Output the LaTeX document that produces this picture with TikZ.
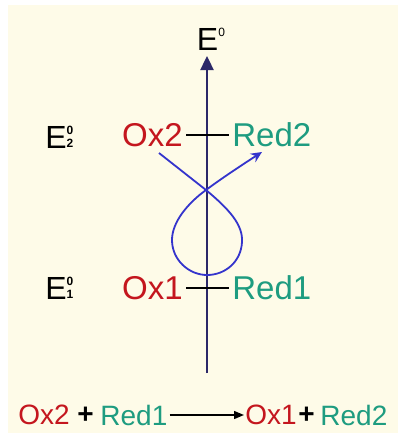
\documentclass[tikz,border=0pt]{standalone}
\usepackage{fontspec}
\setmainfont{Liberation Sans}
\usetikzlibrary{arrows.meta}

\definecolor{crema}{HTML}{FEFBE8}
\definecolor{rojoox}{HTML}{C4161E}
\definecolor{verdered}{HTML}{1E9C80}
\definecolor{ejeazul}{HTML}{2C2868}
\definecolor{curvaazul}{HTML}{3434CC}

% potencial estandar con super- y subindice apilados
\newcommand{\potest}[1]{E\makebox[0pt][l]{\raisebox{0.42em}{\fontsize{12}{12}\selectfont\bfseries 0}}\raisebox{0.02em}{\fontsize{12}{12}\selectfont\bfseries #1}}

\begin{document}
\begin{tikzpicture}[
    x=1pt, y=-1pt,
    ox/.style={text=rojoox, font=\fontsize{33}{33}\selectfont, inner sep=3pt},
    red/.style={text=verdered, font=\fontsize{33}{33}\selectfont, inner sep=3pt},
    pot/.style={font=\fontsize{32}{32}\selectfont, inner sep=0pt},
    ecu/.style={font=\fontsize{28}{28}\selectfont, inner sep=0pt},
    thick
]
    % fondo y margenes
    \useasboundingbox (0,0) rectangle (401,437);
    \fill[crema] (8,5) rectangle (398,433);

    % eje de potencial
    \coordinate (abajo) at (207,373);
    \coordinate (arriba) at (207,56);
    \draw[ejeazul, line width=2.4pt, -{Triangle[length=14pt,width=13pt]}] (abajo) -- (arriba);
    \node[pot, anchor=south] (e0) at (211,51) {E\raisebox{0.45em}{\fontsize{12}{12}\selectfont 0}};

    % pares redox
    \node[pot, anchor=west] (e2) at (45,137) {\potest{2}};
    \node[ox, anchor=east] (ox2) at (186,135) {Ox2};
    \node[red, anchor=west] (red2) at (229,135) {Red2};
    \draw[line width=1.6pt] (ox2) -- (red2);

    \node[pot, anchor=west] (e1) at (45,288) {\potest{1}};
    \node[ox, anchor=east] (ox1) at (186,288) {Ox1};
    \node[red, anchor=west] (red1) at (229,288) {Red1};
    \draw[line width=1.6pt] (ox1) -- (red1);

    % trayectoria de la reaccion
    \coordinate (cruce) at (206,190);
    \draw[curvaazul, line width=1.8pt, -{Stealth[length=11pt,width=10pt]}]
        (159,153) -- (cruce)
        .. controls (230,210) and (243,225) .. (242,242)
        .. controls (241,262) and (225,275) .. (207,275)
        .. controls (189,275) and (172,260) .. (172,240)
        .. controls (172,222) and (188,203) .. (cruce)
        .. controls (222,178) and (245,163) .. (262,152);

    % ecuacion global
    \node[ecu, text=rojoox, anchor=west] (a) at (18,415) {Ox2};
    \node[ecu, anchor=west] (mas1) at (77,415) {\bfseries +};
    \node[ecu, text=verdered, anchor=west] (b) at (100,415) {Red1};
    \node[ecu, text=rojoox, anchor=west] (c) at (245,415) {Ox1};
    \node[ecu, anchor=west] (mas2) at (298,415) {\bfseries +};
    \node[ecu, text=verdered, anchor=west] (d) at (320,415) {Red2};
    \draw[line width=1.4pt, -{Triangle[length=10pt,width=8pt]}, shorten <=2pt, shorten >=1pt] (b) -- (c);
\end{tikzpicture}
\end{document}
